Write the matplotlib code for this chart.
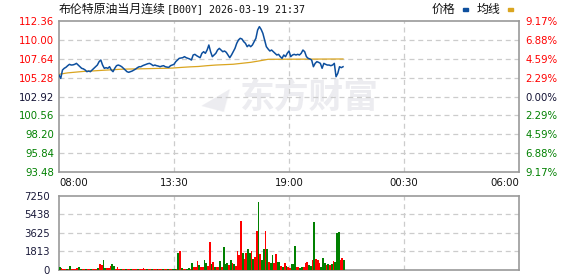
import matplotlib
matplotlib.use('Agg')
import matplotlib.pyplot as plt
from matplotlib.patches import Rectangle
import numpy as np

# ---------------- data ----------------
title_cn = "布伦特原油当月连续"
title_code = "[B00Y] 2026-03-19 21:37"
legend_labels = ["价格", "均线"]

prev_close = 102.92
y_ticks = [93.48, 95.84, 98.20, 100.56, 102.92, 105.28, 107.64, 110.00, 112.36]
y_tick_labels = ["93.48", "95.84", "98.20", "100.56", "102.92", "105.28", "107.64", "110.00", "112.36"]
pct_labels = ["9.17%", "6.88%", "4.59%", "2.29%", "0.00%", "2.29%", "4.59%", "6.88%", "9.17%"]

x_tick_minutes = [0, 330, 660, 990, 1320]
x_tick_labels = ["08:00", "13:30", "19:00", "00:30", "06:00"]

vol_ticks = [0, 1813, 3625, 5438, 7250]
vol_tick_labels = ["0", "1813", "3625", "5438", "7250"]

step_min = 5  # one value every 5 minutes from 08:00

price = [
    105.63, 105.21, 106.26, 106.47, 106.60, 106.80, 106.97, 106.88, 106.90, 106.97,
    107.09, 106.88, 106.67, 106.47, 106.40, 106.26, 106.05, 106.13, 106.05, 106.26,
    106.47, 106.67, 106.88, 107.30, 107.51, 106.88, 106.47, 106.55, 106.47, 106.67,
    106.26, 106.05, 106.47, 106.80, 106.88, 106.80, 106.67, 106.47, 106.26, 106.05,
    105.97, 106.05, 106.13, 106.26, 106.38, 106.55, 106.67, 106.67, 106.80, 106.88,
    106.97, 107.05, 107.09, 106.97, 106.80, 106.88,
    106.80, 106.75, 106.67, 106.75, 106.80, 106.67, 106.62, 106.59, 106.80, 106.88,
    106.97, 107.30, 107.51, 107.72, 107.76, 107.80, 107.93, 107.80, 107.72, 107.64,
    107.51, 108.14, 108.22, 108.05, 107.93, 107.80, 108.35, 108.55, 108.35, 108.76,
    109.39, 108.55, 107.93, 108.14, 108.35, 108.76, 108.97, 108.76, 108.55, 108.64,
    108.47, 108.14, 107.80, 108.14, 108.55, 108.97, 109.60, 110.02, 110.23, 110.14,
    109.81, 109.60, 109.18, 109.39,
    109.18, 109.39, 109.81, 110.23, 111.27, 111.69, 111.35, 110.85, 110.02, 109.18,
    108.89, 108.64, 108.76, 108.55, 108.35, 108.14, 108.22, 107.93, 107.72, 108.14,
    107.93, 108.35, 108.64, 107.93, 108.14, 108.22, 108.14, 108.22, 108.14, 108.35,
    108.76, 108.55, 107.93, 107.72, 107.64, 107.51, 106.67, 107.09, 107.30, 107.22,
    107.09, 106.47, 107.09, 106.97, 106.88, 106.88, 106.80, 106.88, 107.09, 105.42,
    105.84, 106.67, 106.55, 106.67,
]

avg_minutes = [0, 25, 50, 75, 100, 125, 150, 175, 200, 225, 250, 275, 300, 325,
               350, 375, 400, 425, 450, 475, 500, 525, 550, 575, 600, 815]
avg_price = [105.72, 105.90, 106.00, 106.10, 106.15, 106.22, 106.28, 106.35, 106.38,
             106.40, 106.42, 106.45, 106.47, 106.50, 106.58, 106.65, 106.70, 106.80,
             106.88, 106.93, 106.98, 107.10, 107.22, 107.40, 107.60, 107.64]

volume = [
    200, 100, 80, 80, 80, 80, 330, 80, 80, 80,
    150, 230, 80, 60, 60, 60, 60, 60, 60, 60,
    60, 60, 100, 530, 400, 960, 150, 100, 150, 330,
    530, 330, 80, 230, 80, 60, 60, 60, 60, 60,
    60, 60, 60, 60, 60, 60, 60, 60, 160, 60,
    60, 60, 60, 60, 60, 60, 60, 60, 60, 60,
    60, 60, 60, 60, 60, 60, 80, 80, 1640, 1810,
    100, 60, 60, 60, 160, 80, 650, 200, 250, 850,
    430, 200, 200, 920, 650, 330, 2730, 530, 760, 260,
    200, 260, 850, 200, 2240, 530, 650, 430, 920, 600,
    530, 330, 1840, 1420, 4810, 1580, 1000, 1580, 1980, 1580,
    1810, 1070, 1250, 3790, 6660, 1500, 900, 1980, 3790, 1980,
    750, 650, 1420, 650, 1510, 750, 750, 330, 260, 650,
    330, 200, 160, 520, 520, 2300, 260, 200, 160, 200,
    260, 600, 750, 420, 330, 900, 4710, 1070, 900, 600,
    260, 1120, 650, 420, 520, 420, 520, 840, 750, 3560,
    3660, 900, 1120, 900,
]
vol_dir = ("grrrgrgrrr" "rggrrgrrgr" "rrgrrggrrr" "ggrrrgrrgr" "rgrrrgrrrr"
           "grrgrrgrrg" "rrgrrggrgr" "grrggrgrrr" "grrggrrgrg" "rrgrgggrgr"
           "grrrrgrrgg" "rgrrgrggrg" "rggrrggrgr" "grrgggrrgg" "rrrggrgrrr"
           "gggrgrgrgg" "grrg")

# ---------------- style ----------------
W, H = 578, 276
RED = "#ff0000"
GREEN = "#008000"
NEUTRAL = "#111133"
LINE_BLUE = "#0d4f9e"
AVG_GOLD = "#daa520"
SPINE = "#999999"
GRID = "#cccccc"
WM = "#ececf0"
CJK = ["Noto Sans CJK SC", "DejaVu Sans"]

fig = plt.figure(figsize=(W / 100, H / 100), dpi=100)
fig.patch.set_facecolor("white")

L, R = 59, 519
ax = fig.add_axes([L / W, 1 - 172 / H, (R - L) / W, (172 - 21.3) / H])
axv = fig.add_axes([L / W, 1 - 269.5 / H, (R - L) / W, (269.5 - 196) / H])

minutes = np.arange(len(price)) * step_min

for a in (ax, axv):
    a.set_xlim(0, 1320)
    for s in a.spines.values():
        s.set_color(SPINE)
        s.set_linewidth(1.2)
    a.set_xticks(x_tick_minutes)
    a.tick_params(length=0)
    for xm in x_tick_minutes[1:-1]:
        a.axvline(xm, color=GRID, lw=0.9, ls=(0, (4, 3)), zorder=1)

# main price panel
ax.set_ylim(y_ticks[0], y_ticks[-1])
ax.set_yticks(y_ticks)
ax.set_yticklabels(y_tick_labels, fontsize=7.3, family="DejaVu Sans")
ax.tick_params(axis="y", pad=3.5)
for v, lab in zip(y_ticks, ax.get_yticklabels()):
    lab.set_color(RED if v > prev_close + 1e-6 else (GREEN if v < prev_close - 1e-6 else NEUTRAL))
for v in y_ticks[1:-1]:
    ax.axhline(v, color=GRID, lw=0.9, ls=(0, (4, 3)), zorder=1)

ax.set_xticklabels(x_tick_labels, fontsize=7.3, color="#111111")
ax.tick_params(axis="x", pad=4)
xl = ax.get_xticklabels()
xl[0].set_horizontalalignment("left")
xl[-1].set_horizontalalignment("right")

# watermark
ax.text(0.545, 0.50, "东方财富", transform=ax.transAxes, fontsize=25, fontweight="bold",
        color=WM, family=CJK, ha="center", va="center", zorder=0)
ax.text(0.34, 0.50, "◢", transform=ax.transAxes, fontsize=22, color=WM,
        family=["DejaVu Sans"], ha="center", va="center", zorder=0, rotation=-15)

ax.plot(avg_minutes, avg_price, color=AVG_GOLD, lw=0.9, zorder=3)
ax.plot(minutes, price, color=LINE_BLUE, lw=1.1, zorder=4)

# right percent axis
ax2 = ax.twinx()
ax2.set_ylim(y_ticks[0], y_ticks[-1])
ax2.set_yticks(y_ticks)
ax2.set_yticklabels(pct_labels, fontsize=7.3)
ax2.tick_params(length=0, pad=4.5)
for s in ax2.spines.values():
    s.set_visible(False)
for v, lab in zip(y_ticks, ax2.get_yticklabels()):
    lab.set_color(RED if v > prev_close + 1e-6 else (GREEN if v < prev_close - 1e-6 else NEUTRAL))

# volume panel
axv.set_ylim(0, vol_ticks[-1])
axv.set_yticks(vol_ticks)
axv.set_yticklabels(vol_tick_labels, fontsize=7.3, color="#1a1a3a")
axv.tick_params(axis="y", pad=6.5)
axv.set_xticklabels([])
for v in vol_ticks[1:-1]:
    axv.axhline(v, color=GRID, lw=0.9, ls=(0, (4, 3)), zorder=1)
bar_colors = [RED if c == "r" else GREEN for c in vol_dir]
axv.bar(minutes, volume, width=step_min, color=bar_colors, align="edge",
        linewidth=0, zorder=3)

# title
fig.text(59 / W, 1 - 9.5 / H, title_cn, fontsize=8.6, family=CJK, color="#111111",
         va="center", ha="left")
fig.text(167 / W, 1 - 9.5 / H, title_code, fontsize=7.2, family="DejaVu Sans Mono",
         color="#111111", va="center", ha="left")

# legend
fig.text(432 / W, 1 - 9.5 / H, legend_labels[0], fontsize=8.6, family=CJK, color="#111111",
         va="center", ha="left")
fig.patches.append(Rectangle((462.5 / W, 1 - 11 / H), 5 / W, 3 / H,
                             transform=fig.transFigure, color=LINE_BLUE))
fig.text(477 / W, 1 - 9.5 / H, legend_labels[1], fontsize=8.6, family=CJK, color="#111111",
         va="center", ha="left")
fig.patches.append(Rectangle((508 / W, 1 - 11 / H), 5 / W, 3 / H,
                             transform=fig.transFigure, color=AVG_GOLD))

fig.savefig("out.png", dpi=100, facecolor="white")
